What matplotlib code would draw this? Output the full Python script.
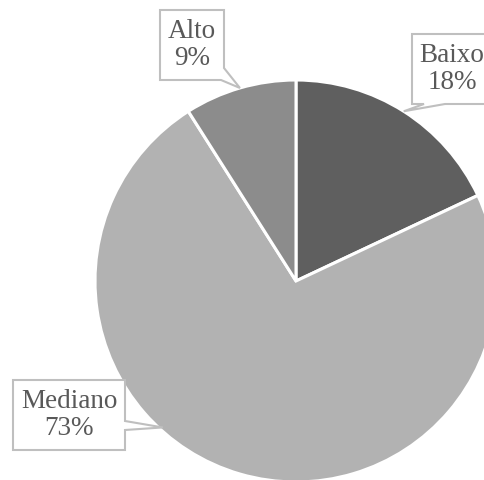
import numpy as np
import matplotlib
matplotlib.use("Agg")
import matplotlib.pyplot as plt
from matplotlib.patches import Polygon

categories = ["Baixo", "Mediano", "Alto"]
shares = [18, 73, 9]
pct_labels = ["18%", "73%", "9%"]
colors = ["#5f5f5f", "#b2b2b2", "#8c8c8c"]

W, H = 485, 480
fig = plt.figure(figsize=(W / 100, H / 100), dpi=100)
ax = fig.add_axes([0, 0, 1, 1])

cx, cy, r = 296, H - 281, 201
wedges, _ = ax.pie(shares, colors=colors, startangle=90, counterclock=False,
                   center=(cx, cy), radius=r, frame=True,
                   wedgeprops=dict(edgecolor="white", linewidth=2.2))
ax.set_xlim(0, W)
ax.set_ylim(0, H)
ax.set_aspect("equal")
ax.axis("off")


def yv(y):
    return H - y


def edge_point(angle_deg, frac=1.0):
    a = np.deg2rad(angle_deg)
    return cx + frac * r * np.cos(a), cy + frac * r * np.sin(a)


def mid_angle(w):
    return (w.theta1 + w.theta2) / 2


# callout boxes in pixel rows from the top; "tip" marks the pointer end
tips = {
    "Baixo": edge_point(mid_angle(wedges[0]), 1.0),
    "Mediano": edge_point(227.7, 0.985),
    "Alto": edge_point(mid_angle(wedges[2]), 1.0),
}

boxes = {
    "Alto": [(160, 10), (224, 10), (224, 68), "tip", (221, 80), (160, 80)],
    "Baixo": [(412, 34), (490, 34), (490, 104), (445, 104), "tip", (424, 104), (412, 104)],
    "Mediano": [(13, 380), (125, 380), (125, 421), "tip", (125, 430), (125, 450), (13, 450)],
}
text_pos = {"Alto": (192, 45), "Baixo": (452, 69), "Mediano": (69, 415)}

for name, pct in zip(categories, pct_labels):
    pts = []
    for p in boxes[name]:
        if p == "tip":
            pts.append(tips[name])
        else:
            pts.append((p[0], yv(p[1])))
    ax.add_patch(Polygon(pts, closed=True, facecolor="white",
                         edgecolor="#bfbfbf", linewidth=1.5, zorder=5,
                         clip_on=False))
    tx, ty = text_pos[name]
    ax.text(tx, yv(ty), f"{name}\n{pct}", ha="center", va="center",
            fontsize=19.5, family="Liberation Serif", color="#595959",
            linespacing=1.13, zorder=6)

fig.savefig("out.png", dpi=100)
